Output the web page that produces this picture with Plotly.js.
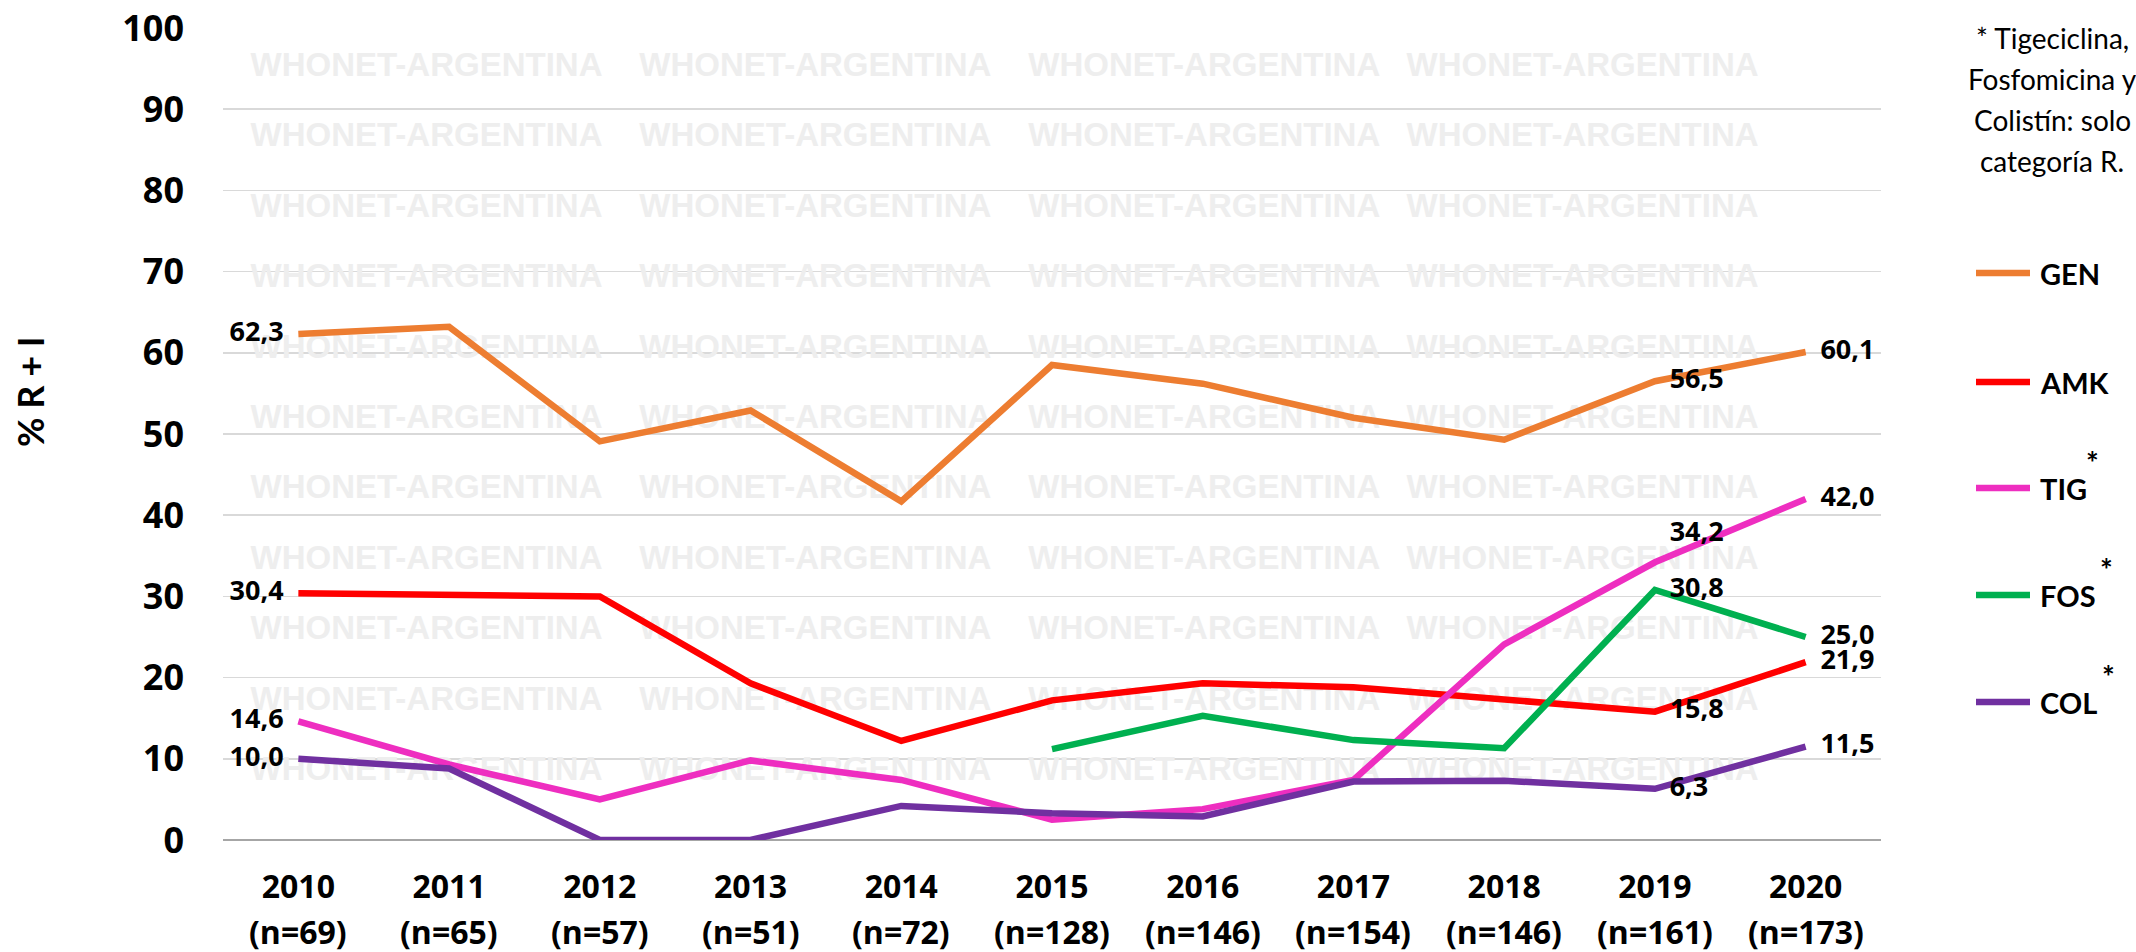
<!DOCTYPE html>
<html>
<head>
<meta charset="utf-8">
<script src="https://cdn.plot.ly/plotly-3.0.1.min.js"></script>
<style>
  html, body { margin: 0; padding: 0; background: #ffffff; }
  #chart { width: 2136px; height: 952px; }
</style>
</head>
<body>
<div id="chart"></div>
<script>
// ---- data ----
const years = ['2010', '2011', '2012', '2013', '2014', '2015', '2016', '2017', '2018', '2019', '2020'];
const nIsolates = [69, 65, 57, 51, 72, 128, 146, 154, 146, 161, 173];
const gen = [62.3, 63.2, 49.1, 52.9, 41.7, 58.5, 56.2, 52.0, 49.3, 56.5, 60.1];
const amk = [30.4, 30.2, 30.0, 19.3, 12.2, 17.2, 19.3, 18.8, 17.3, 15.8, 21.9];
const tig = [14.6, 9.3, 5.0, 9.8, 7.4, 2.5, 3.8, 7.4, 24.1, 34.2, 42.0];
const fos = [null, null, null, null, null, 11.2, 15.3, 12.3, 11.3, 30.8, 25.0];
const col = [10.0, 8.8, 0.0, 0.0, 4.2, 3.3, 2.9, 7.2, 7.3, 6.3, 11.5];
const seriesNames = ['GEN', 'AMK', 'TIG', 'FOS', 'COL'];
const starred = [false, false, true, true, true];
const yTicks = [0, 10, 20, 30, 40, 50, 60, 70, 80, 90, 100];
const noteLines = ['* Tigeciclina,', 'Fosfomicina y', 'Colistín: solo', 'categoría R.'];
const watermarkText = 'WHONET-ARGENTINA';

// ---- styling / layout constants ----
const colors = ['#ED7D31', '#FF0000', '#EE2EC0', '#00B050', '#7030A0'];
const SANS = '"Open Sans", "Noto Sans", sans-serif';
const LEG = 'Lato, "Open Sans", sans-serif';
const idx = years.map((_, i) => i);
const labelled = [0, 9, 10];
const W = 2136, H = 952, ML = 223, MR = 255, MT = 28, MB = 112;
const PW = W - ML - MR, PH = H - MT - MB;
const px2x = p => (p - ML) / PW;
const px2y = p => (H - MB - p) / PH;

function fmt(v) { return v.toFixed(1).replace('.', ','); }
function labels(arr) {
  return arr.map((v, i) => (labelled.includes(i) && v !== null) ? fmt(v) : '');
}
function positions(arr, special) {
  return arr.map((v, i) => {
    if (special && special[i]) return special[i];
    return i === 0 ? 'middle left' : 'middle right';
  });
}

function series(name, values, color, special) {
  return {
    type: 'scatter',
    mode: 'lines+markers+text',
    name: name,
    x: idx,
    y: values,
    line: { color: color, width: 6.5 },
    marker: { size: 22, opacity: 0, color: color },
    text: labels(values),
    textposition: positions(values, special),
    textfont: { family: SANS, size: 27, color: '#000000', weight: 'bold' },
    hoverinfo: 'skip',
    cliponaxis: false,
    connectgaps: false,
    showlegend: false
  };
}

// watermark grid (decoration) in axis units
const wmCols = [0.85, 3.43, 6.01, 8.52];
const wmRow0 = 95.1, wmStep = 8.67, wmRows = 12;
const wmX = [], wmY = [], wmT = [];
for (let r = 0; r < wmRows; r++) {
  for (const c of wmCols) { wmX.push(c); wmY.push(wmRow0 - r * wmStep); wmT.push(watermarkText); }
}

const values = [gen, amk, tig, fos, col];
const traces = [
  {
    type: 'scatter', mode: 'text', x: wmX, y: wmY, text: wmT,
    textposition: 'middle center',
    textfont: { family: '"Liberation Sans", Arial, sans-serif', size: 33, color: '#eeeeee', weight: 'bold' },
    hoverinfo: 'skip', showlegend: false, cliponaxis: false
  }
].concat(seriesNames.map((n, k) => series(n, values[k], colors[k], k === 2 ? { 9: 'top right' } : null)));

// manual legend (line sample + label)
const legendY = [273, 382, 488, 595, 702];
const starX = [0, 0, 2092, 2106, 2108];
const legendShapes = seriesNames.map((n, k) => ({
  type: 'line', xref: 'paper', yref: 'paper',
  x0: px2x(1976), x1: px2x(2030), y0: px2y(legendY[k]), y1: px2y(legendY[k]),
  line: { color: colors[k], width: 6.5 }
}));
const legendLabels = seriesNames.map((n, k) => ({
  xref: 'paper', yref: 'paper', x: px2x(2038), y: px2y(legendY[k]),
  text: n, showarrow: false, xanchor: 'left', yanchor: 'middle',
  font: { family: LEG, size: 29, color: '#000000', weight: 'bold' }
}));
const legendStars = seriesNames.map((n, k) => starred[k] ? ({
  xref: 'paper', yref: 'paper', x: px2x(starX[k]), y: px2y(legendY[k] - 26),
  text: '*', showarrow: false, xanchor: 'center', yanchor: 'middle',
  font: { family: LEG, size: 30, color: '#000000', weight: 'bold' }
}) : null).filter(Boolean);

const nLabels = years.map((y, i) => ({
  xref: 'x', yref: 'paper', x: i, y: px2y(931),
  text: '(n=' + nIsolates[i] + ')', showarrow: false, xanchor: 'center', yanchor: 'middle',
  font: { family: SANS, size: 32, color: '#000000', weight: 'bold' }
}));

const layout = {
  width: W, height: H,
  margin: { l: ML, r: MR, t: MT, b: MB },
  paper_bgcolor: '#ffffff', plot_bgcolor: '#ffffff',
  showlegend: false,
  xaxis: {
    range: [-0.5, 10.5], tickmode: 'array', tickvals: idx, ticktext: years,
    tickfont: { family: SANS, size: 32, color: '#000000', weight: 'bold' },
    showgrid: false, zeroline: false, showline: false, ticks: '',
    ticklabelstandoff: 25, fixedrange: true
  },
  yaxis: {
    range: [0, 100], tickmode: 'array', tickvals: yTicks,
    tickfont: { family: SANS, size: 36, color: '#000000', weight: 'bold' },
    showgrid: true, gridcolor: '#d9d9d9', gridwidth: 1.5,
    zeroline: true, zerolinecolor: '#a6a6a6', zerolinewidth: 2,
    showline: false, ticks: '', ticklabelstandoff: 38, fixedrange: true
  },
  shapes: legendShapes,
  annotations: [
    {
      xref: 'paper', yref: 'paper', x: px2x(30), y: px2y(392), text: '% R + I',
      textangle: -90, showarrow: false, xanchor: 'center', yanchor: 'middle',
      font: { family: LEG, size: 36, color: '#000000', weight: 'bold' }
    }
  ].concat(noteLines.map((t, i) => ({
    xref: 'paper', yref: 'paper', x: px2x(2052), y: px2y(38 + i * 41), text: t,
    showarrow: false, xanchor: 'center', yanchor: 'middle',
    font: { family: LEG, size: 28, color: '#000000' }
  }))).concat(legendLabels, legendStars, nLabels)
};

Plotly.newPlot('chart', traces, layout, { displayModeBar: false, staticPlot: true });
</script>
</body>
</html>
